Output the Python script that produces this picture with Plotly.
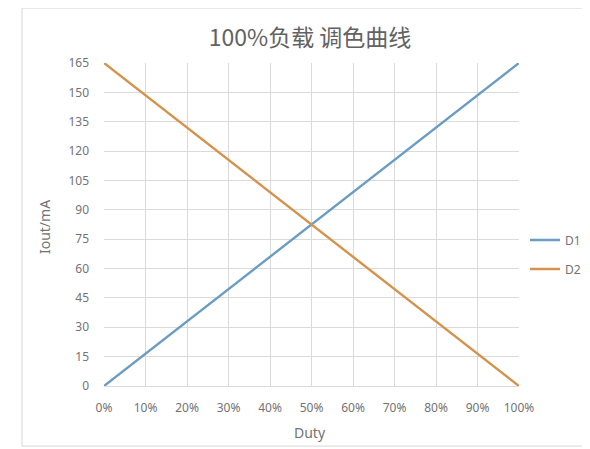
import plotly.graph_objects as go

duty = [0, 10, 20, 30, 40, 50, 60, 70, 80, 90, 100]
duty_labels = ["0%", "10%", "20%", "30%", "40%", "50%", "60%", "70%", "80%", "90%", "100%"]
d1 = [0, 16.5, 33, 49.5, 66, 82.5, 99, 115.5, 132, 148.5, 165]
d2 = [165, 148.5, 132, 115.5, 99, 82.5, 66, 49.5, 33, 16.5, 0]
y_ticks = [0, 15, 30, 45, 60, 75, 90, 105, 120, 135, 150, 165]

fig = go.Figure()
fig.add_trace(go.Scatter(x=duty, y=d1, mode="lines", name="D1", legendgroup="a",
                         line=dict(color="#6A9CC4", width=2.4)))
fig.add_trace(go.Scatter(x=duty, y=d2, mode="lines", name="D2", legendgroup="b",
                         line=dict(color="#D4934C", width=2.4)))

grid = "#DADADA"
txt = "#737373"
tf = dict(family="Noto Sans, sans-serif", size=12, color=txt)
fig.update_layout(
    width=582, height=441,
    margin=dict(l=96, r=71, t=55, b=63, autoexpand=False),
    paper_bgcolor="white", plot_bgcolor="white",
    title=dict(text="100%负载 调色曲线", x=0.519, xanchor="center", y=0.932, yanchor="middle",
               font=dict(family="Noto Sans CJK SC", size=23, color="#626262")),
    xaxis=dict(range=[0, 100], tickvals=duty, ticktext=duty_labels, showgrid=True,
               gridcolor=grid, gridwidth=1, zeroline=False, showline=True, linecolor=grid,
               tickfont=tf, ticks="", ticklabelstandoff=11, automargin=False),
    yaxis=dict(range=[0, 165], tickvals=y_ticks, showgrid=True, gridcolor=grid, gridwidth=1,
               zeroline=False, showline=False, tickfont=tf, ticks="", ticklabelstandoff=14,
               automargin=False),
    legend=dict(x=1.0145, y=0.407, xanchor="left", yanchor="middle", tracegroupgap=10,
                font=dict(family="Noto Sans, sans-serif", size=12, color=txt),
                bgcolor="rgba(0,0,0,0)"),
    annotations=[
        dict(text="Duty", xref="paper", yref="paper", x=0.496, y=-0.1455, showarrow=False,
             xanchor="center", yanchor="middle", font=dict(family="Noto Sans, sans-serif", size=14, color=txt)),
        dict(text="Iout/mA", xref="paper", yref="paper", x=-0.1446, y=0.492, showarrow=False,
             textangle=-90, xanchor="center", yanchor="middle",
             font=dict(family="Noto Sans, sans-serif", size=14, color=txt)),
    ],
    shapes=[dict(type="rect", xref="paper", yref="paper", x0=-0.1976, x1=1.17, y0=-0.186, y1=1.17,
                 line=dict(color="#D8D8D8", width=1), fillcolor="rgba(0,0,0,0)", layer="below")],
)
fig.write_html("out.html")
